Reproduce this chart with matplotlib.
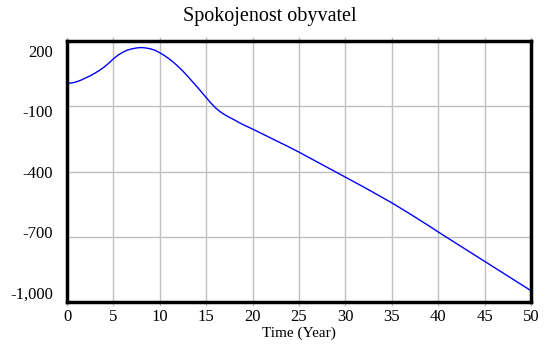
import matplotlib
matplotlib.use("Agg")
import matplotlib.pyplot as plt
import matplotlib.transforms as mtransforms
from matplotlib.ticker import FuncFormatter

plt.rcParams['font.family'] = ['Liberation Serif', 'DejaVu Serif']
plt.rcParams['axes.unicode_minus'] = False

# Simulation output: half-year values up to year 20, yearly after that
years = [i / 2 for i in range(0, 41)] + list(range(21, 51))
spokojenost = [
    5, 7, 12, 20, 30, 40, 52, 65, 80, 98,
    118, 135, 148, 158, 164, 168, 170, 168, 164, 157,
    146, 133, 118, 101, 82, 61, 38, 14, -10, -35,
    -60, -85, -107, -125, -139, -151, -162, -174, -185, -195,
    -205,
    -226, -247, -268, -289, -311, -334, -357, -380, -403,
    -426, -449, -472, -496, -520, -544, -570, -596, -623, -650,
    -678, -705, -732, -759, -786, -813, -840, -867, -894, -921,
    -948,
]
x_ticks = list(range(0, 51, 5))
y_ticks = [200, -100, -400, -700, -1000]

fig = plt.figure(figsize=(5.5, 3.44), dpi=100)
ax = fig.add_axes((67 / 550, 42 / 344, 464 / 550, 261 / 344))

ax.plot(years, spokojenost, color='#0000ff', linewidth=1.0)

ax.set_xlim(0, 50)
ax.set_ylim(-1000, 200)
ax.set_xticks(x_ticks)
ax.set_yticks(y_ticks)
ax.yaxis.set_major_formatter(FuncFormatter(lambda v, p: f"{int(v):,}"))
ax.grid(True, color='#c0c0c0', linewidth=1.0)

for side in ax.spines.values():
    side.set_linewidth(2.5)
    side.set_color('black')
    side.set_zorder(5)

ax.tick_params(axis='x', which='both', direction='out', length=3, width=1,
               color='#c0c0c0', top=True, labelsize=12, pad=2)
ax.tick_params(axis='y', which='both', length=0, labelsize=12, pad=10)

# y labels are spread slightly inside the axis range
shifts = [-7, -3.5, 0, 3.3, 6.8]
for lab, dy in zip(ax.get_yticklabels(), shifts):
    lab.set_transform(lab.get_transform() +
                      mtransforms.ScaledTranslation(0, dy / 72, fig.dpi_scale_trans))

ax.set_xlabel('Time (Year)', fontsize=11, labelpad=1)
fig.text(270 / 550, 1 - 17 / 344, 'Spokojenost obyvatel',
         ha='center', va='center', fontsize=14.5)

fig.savefig('out.png', dpi=100)
